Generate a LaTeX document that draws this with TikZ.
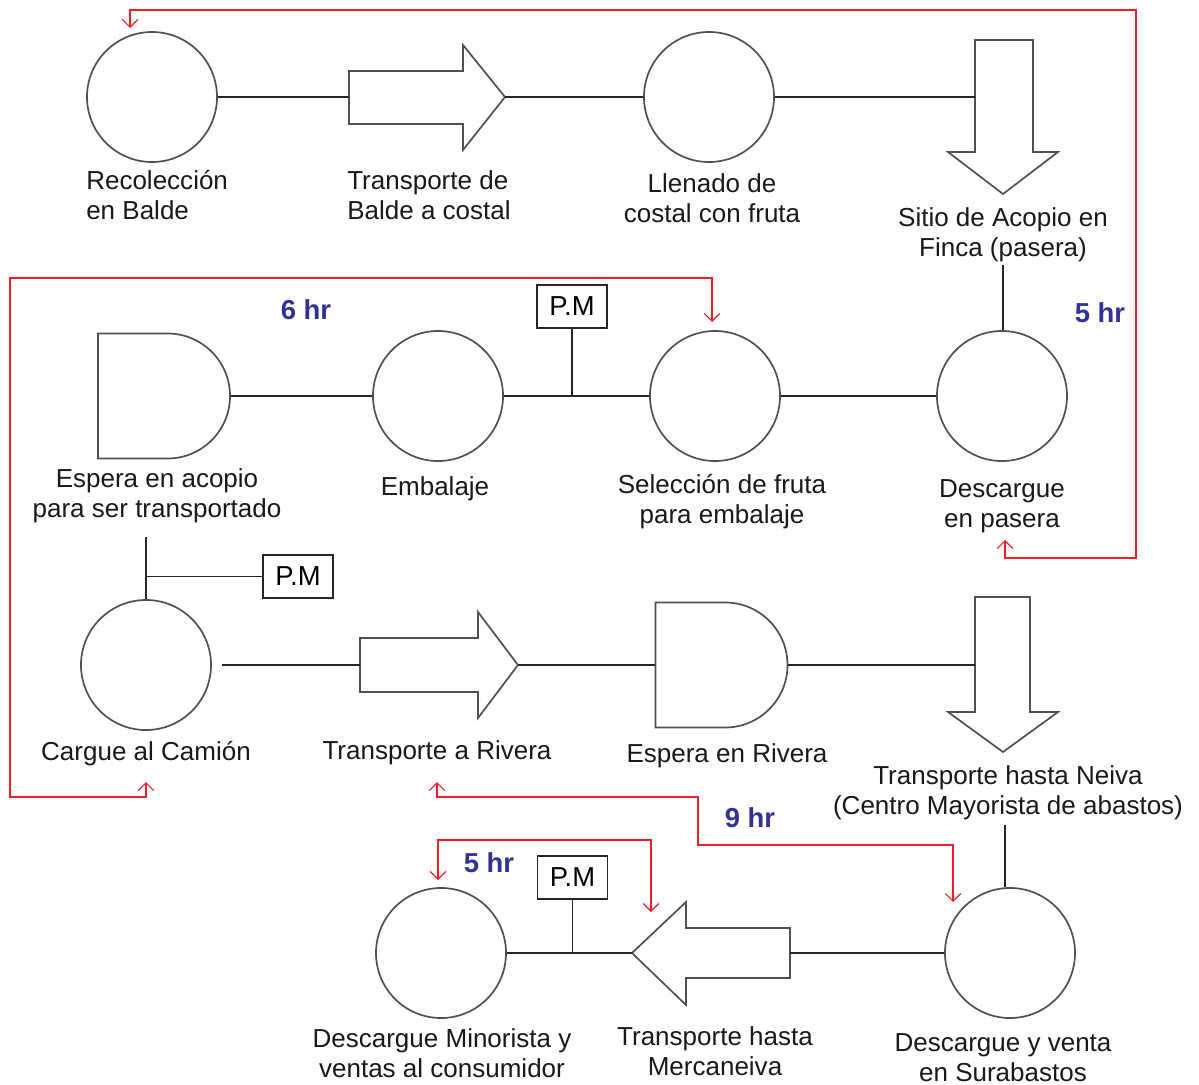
\documentclass[tikz,border=0pt]{standalone}
\usepackage{fontspec}
\setmainfont{Liberation Sans}
\usetikzlibrary{arrows.meta,shapes.misc}
\definecolor{hrblue}{RGB}{50,50,150}
\definecolor{shapegray}{RGB}{80,80,80}
\definecolor{redline}{RGB}{240,30,40}
\begin{document}
\begin{tikzpicture}[x=0.025cm,y=-0.025cm,
 proc/.style={circle,draw=shapegray,line width=1.2pt,minimum size=3.25cm,inner sep=0pt},
 waitbox/.style={rounded rectangle,rounded rectangle west arc=none,draw=shapegray,line width=1.2pt,minimum width=3.3cm,minimum height=3.125cm,inner sep=0pt},
 arrowshape/.style={draw=shapegray,line width=1.2pt,line join=miter},
 holder/.style={inner sep=0pt,outer sep=0pt},
 conn/.style={draw=black!85,line width=1.2pt},
 lbl/.style={font=\fontsize{18.5}{21.3}\selectfont,align=center,inner sep=0pt,text=black!90},
 hrs/.style={font=\fontsize{19.5}{22}\selectfont\bfseries,text=hrblue,inner sep=0pt},
 pmbox/.style={draw=black!85,line width=1.2pt,minimum width=1.75cm,minimum height=1.075cm,inner sep=0pt,font=\fontsize{19.5}{22}\selectfont},
 redarrow/.style={draw=redline,line width=0.8pt,{Straight Barb[length=5.5pt,width=11pt]}-{Straight Barb[length=5.5pt,width=11pt]}}
]
\useasboundingbox (0,0) rectangle (1199,1085);
\fill[white] (0,0) rectangle (1199,1085);

% ---------- Row 1 ----------
\node[proc] (rec) at (152,97) {};
\node[holder,minimum width=3.9cm,minimum height=2.625cm] (tr1) at (427,97) {};
\draw[arrowshape] (349,71) -- (463,71) -- (463,45) -- (505,97) -- (463,150) -- (463,124) -- (349,124) -- cycle;
\node[proc] (lle) at (709,97) {};
\node[holder,minimum width=1.45cm,minimum height=2.85cm] (si) at (1004,97) {};
\draw[arrowshape] (975,40) -- (1033,40) -- (1033,152) -- (1058,152) -- (1003,194) -- (948,152) -- (975,152) -- cycle;

\node[lbl,align=left,anchor=west] (rec-l) at (86,195) {Recolección\\en Balde};
\node[lbl,align=left,anchor=west] (tr1-l) at (347,195) {Transporte de\\Balde a costal};
\node[lbl] (lle-l) at (712,198) {Llenado de\\costal con fruta};
\node[lbl] (si-l) at (1003,235) {Sitio de Acopio en\\Finca (pasera)};

\draw[conn] (rec) -- (tr1.west);
\draw[conn] (tr1.east) -- (lle);
\draw[conn] (lle) -- (si.west);

% ---------- Row 2 ----------
\node[waitbox] (eac) at (164,396) {};
\node[proc] (emb) at (438,396) {};
\node[pmbox] (pm1) at (572,306.5) {P.M};
\node[proc] (sel) at (715,396) {};
\node[proc] (desp) at (1002,396) {};

\node[lbl] (eac-l) at (157,496) {Espera en acopio\\para ser transportado};
\node[lbl] (emb-l) at (435,489) {Embalaje};
\node[lbl] (sel-l) at (722,502) {Selección de fruta\\para embalaje};
\node[lbl] (desp-l) at (1002,506) {Descargue\\en pasera};
\node[hrs] (h6) at (306,310) {6 hr};
\node[hrs] (h5a) at (1100,313) {5 hr};

\coordinate (si-stem) at (1003,265);
\draw[conn] (si-stem) -- (si-stem |- desp.north);
\draw[conn] (eac.east) -- (emb.west);
\draw[conn] (emb.east) -- (sel.west);
\draw[conn] (pm1.south) -- (pm1.south |- emb.east);
\draw[conn] (sel.east) -- (desp.west);

% ---------- Row 3 ----------
\node[proc] (car) at (146,665) {};
\node[pmbox] (pm2) at (298,576.5) {P.M};
\node[holder,minimum width=3.95cm,minimum height=2.65cm] (tr2) at (439,665) {};
\draw[arrowshape] (360,638) -- (478,638) -- (478,612) -- (518,665) -- (478,718) -- (478,692) -- (360,692) -- cycle;
\node[waitbox] (eri) at (721.5,665) {};
\node[holder,minimum width=1.375cm,minimum height=3.3cm] (tn) at (1002.5,665) {};
\draw[arrowshape] (975,597) -- (1030,597) -- (1030,712) -- (1058,712) -- (1003,752) -- (948,712) -- (975,712) -- cycle;

\node[lbl] (car-l) at (146,754) {Cargue al Camión};
\node[lbl] (tr2-l) at (437,753) {Transporte a Rivera};
\node[lbl] (eri-l) at (727,756) {Espera en Rivera};
\node[lbl] (tn-l) at (1008,793) {Transporte hasta Neiva\\(Centro Mayorista de abastos)};

\coordinate (eac-stem) at (146,537);
\draw[conn] (eac-stem) -- (car.north);
\draw[conn] (eac-stem |- pm2.west) -- (pm2.west);
\draw[conn,shorten <=7pt] (car.east) -- (tr2.west);
\draw[conn] (tr2.east) -- (eri.west);
\draw[conn] (eri.east) -- (tn.west);

% ---------- Row 4 ----------
\node[proc] (dsu) at (1010,953) {};
\node[holder,minimum width=3.95cm,minimum height=2.575cm] (tm) at (711,953) {};
\draw[arrowshape] (790,928) -- (686,928) -- (686,902) -- (632,953) -- (686,1005) -- (686,978) -- (790,978) -- cycle;
\node[pmbox] (pm3) at (572.5,877.5) {P.M};
\node[proc] (dmi) at (441,953) {};

\node[lbl] (dmi-l) at (442,1053) {Descargue Minorista y\\ventas al consumidor};
\node[lbl] (tm-l) at (715,1051) {Transporte hasta\\Mercaneiva};
\node[lbl] (dsu-l) at (1003,1058) {Descargue y venta\\en Surabastos};
\node[hrs] (h9) at (750,818) {9 hr};
\node[hrs] (h5b) at (489,863) {5 hr};

\coordinate (tn-stem) at (1005,825);
\draw[conn] (tn-stem) -- (tn-stem |- dsu.north);
\draw[conn] (dsu.west) -- (tm.east);
\draw[conn] (tm.west) -- (dmi.east);
\draw[conn] (pm3.south) -- (pm3.south |- dmi.east);

% ---------- Red time arrows ----------
\coordinate (r1a) at (130,28);
\coordinate (r1b) at (1005,540);
\draw[redarrow] (r1a) -- (130,10) -- (1136,10) -- (1136,558) -- (1005,558) -- (r1b);
\coordinate (r2a) at (712,322);
\coordinate (r2b) at (146,782);
\draw[redarrow] (r2a) -- (712,278) -- (10,278) -- (10,797) -- (146,797) -- (r2b);
\coordinate (r3a) at (437,782);
\coordinate (r3b) at (953,902);
\draw[redarrow] (r3a) -- (437,797) -- (698,797) -- (698,845) -- (953,845) -- (r3b);
\coordinate (r4a) at (438,880);
\coordinate (r4b) at (651,912);
\draw[redarrow] (r4a) -- (438,840) -- (651,840) -- (r4b);
\end{tikzpicture}
\end{document}
